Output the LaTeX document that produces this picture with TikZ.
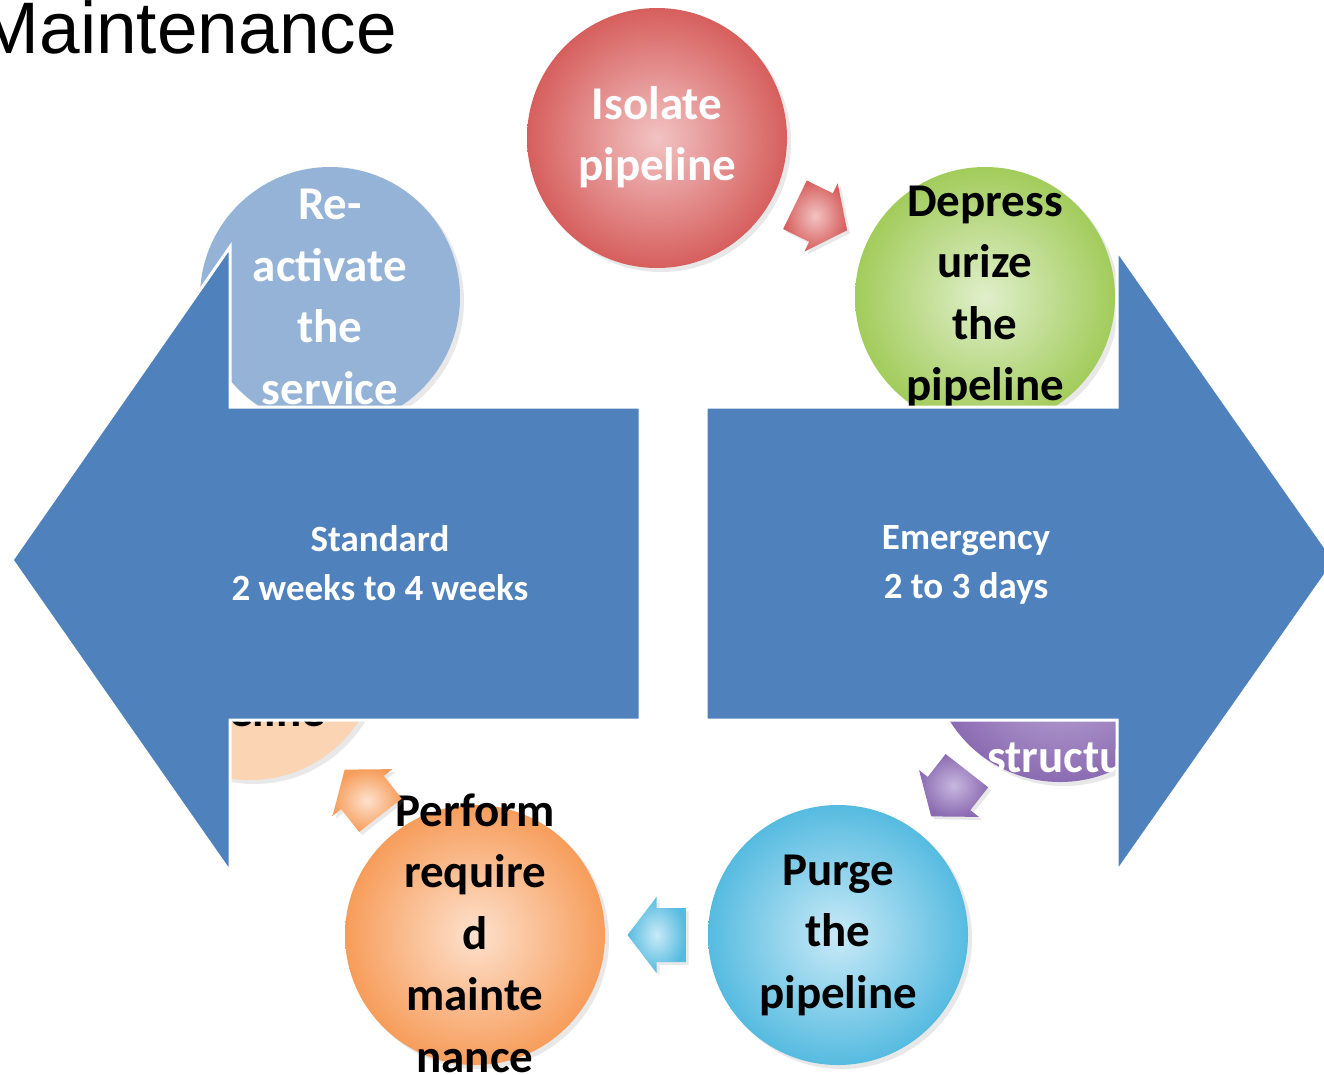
\documentclass[tikz,border=0pt]{standalone}
\usepackage{fontspec}
\setmainfont{Carlito}
\newfontfamily\titlefont{Liberation Sans}
\usetikzlibrary{calc,shadows}

\definecolor{arrowblue}{HTML}{4F81BD}
\definecolor{redout}{HTML}{D65F5D}
\definecolor{redin}{HTML}{F2C3C3}
\definecolor{greenout}{HTML}{A2CC5B}
\definecolor{greenin}{HTML}{E0EFCB}
\definecolor{cyanout}{HTML}{56BBE0}
\definecolor{cyanin}{HTML}{C9EAF7}
\definecolor{orangeout}{HTML}{F79D5B}
\definecolor{orangein}{HTML}{FDE1CD}
\definecolor{purpleout}{HTML}{8B6BB2}
\definecolor{purplein}{HTML}{C8B8DF}
\definecolor{paleblue}{HTML}{95B3D7}
\definecolor{palepeach}{HTML}{FBD4B4}

\tikzset{
  stepcircle/.style={circle, minimum size=260pt, inner sep=0pt,
    drop shadow={shadow xshift=4pt, shadow yshift=-4pt, opacity=0.18}},
  steptext/.style={inner sep=0pt, align=center, font=\fontsize{47}{61.5}\selectfont\bfseries},
  cyclearrow/.style={drop shadow={shadow xshift=3pt, shadow yshift=-3pt, opacity=0.18}},
  bigarrow/.style={fill=arrowblue, draw=white, line width=3pt},
  bigtext/.style={text=white, align=center, font=\fontsize{37}{49}\selectfont\bfseries}
}

\begin{document}
\begin{tikzpicture}[x=1pt, y=-1pt]
    \useasboundingbox[fill=white] (0,0) rectangle (1324,1074);

    \node[anchor=base east, inner sep=0pt, font=\titlefont\fontsize{73}{80}\selectfont] (title) at (397,53) {Maintenance};

    % cycle of steps
    \node[stepcircle, inner color=redin, outer color=redout] (isolate) at (657,138) {};
    \node[stepcircle, inner color=greenin, outer color=greenout] (depress) at (985,297) {};
    \node[stepcircle, inner color=purplein, outer color=purpleout] (check) at (1060,652) {};
    \node[stepcircle, inner color=cyanin, outer color=cyanout] (purge) at (838,935) {};
    \node[stepcircle, inner color=orangein, outer color=orangeout] (perform) at (475,935) {};
    \node[stepcircle, fill=palepeach] (repress) at (250,650) {};
    \node[stepcircle, fill=paleblue] (reactivate) at (330,297) {};

    \node[steptext, text=white] (isolatetext) at ($(isolate)+(0,-1)$) {Isolate\\pipeline};
    \node[steptext] (depresstext) at (depress) {Depress\\urize\\the\\pipeline};
    \node[steptext, text=white] (checktext) at (1076,758) {structure};
    \node[steptext] (purgetext) at (purge) {Purge\\the\\pipeline};
    \node[steptext] (performtext) at ($(perform)+(0,-2)$) {Perform\\require\\d\\mainte\\nance};
    \node[steptext, anchor=base] (represstext) at (246,726) {pipeline};
    \node[steptext, text=white] (reactivatetext) at (reactivate) {Re-\\activate\\the\\service};

    % arrows between steps
    \shade[cyclearrow, inner color=redin, outer color=redout, shift={($(isolate)!0.5!(depress)$)}, rotate=-26]
        (29,0) -- (0,38) -- (0,27) -- (-29,27) -- (-29,-27) -- (0,-27) -- (0,-38) -- cycle;
    \shade[cyclearrow, inner color=purplein, outer color=purpleout, shift={($(check)!0.5!(purge)$)}, rotate=-128]
        (29,0) -- (0,38) -- (0,27) -- (-29,27) -- (-29,-27) -- (0,-27) -- (0,-38) -- cycle;
    \shade[cyclearrow, inner color=cyanin, outer color=cyanout, shift={($(purge)!0.5!(perform)$)}, rotate=180]
        (29,0) -- (0,38) -- (0,27) -- (-29,27) -- (-29,-27) -- (0,-27) -- (0,-38) -- cycle;
    \shade[cyclearrow, inner color=orangein, outer color=orangeout, shift={($(perform)!0.5!(repress)$)}, rotate=128]
        (29,0) -- (0,38) -- (0,27) -- (-29,27) -- (-29,-27) -- (0,-27) -- (0,-38) -- cycle;

    % the two big arrows
    \draw[bigarrow] (12,560) -- (230,247) -- (230,407) -- (640,407) -- (640,720) -- (230,720) -- (230,872) -- cycle;
    \draw[bigarrow] (1335,561) -- (1117,250) -- (1117,407) -- (706,407) -- (706,720) -- (1117,720) -- (1117,872) -- cycle;

    \node[bigtext] (standard) at (380,563) {Standard\\2 weeks to 4 weeks};
    \node[bigtext] (emergency) at (966,565) {Emergency\\2 to 3 days};
\end{tikzpicture}
\end{document}
